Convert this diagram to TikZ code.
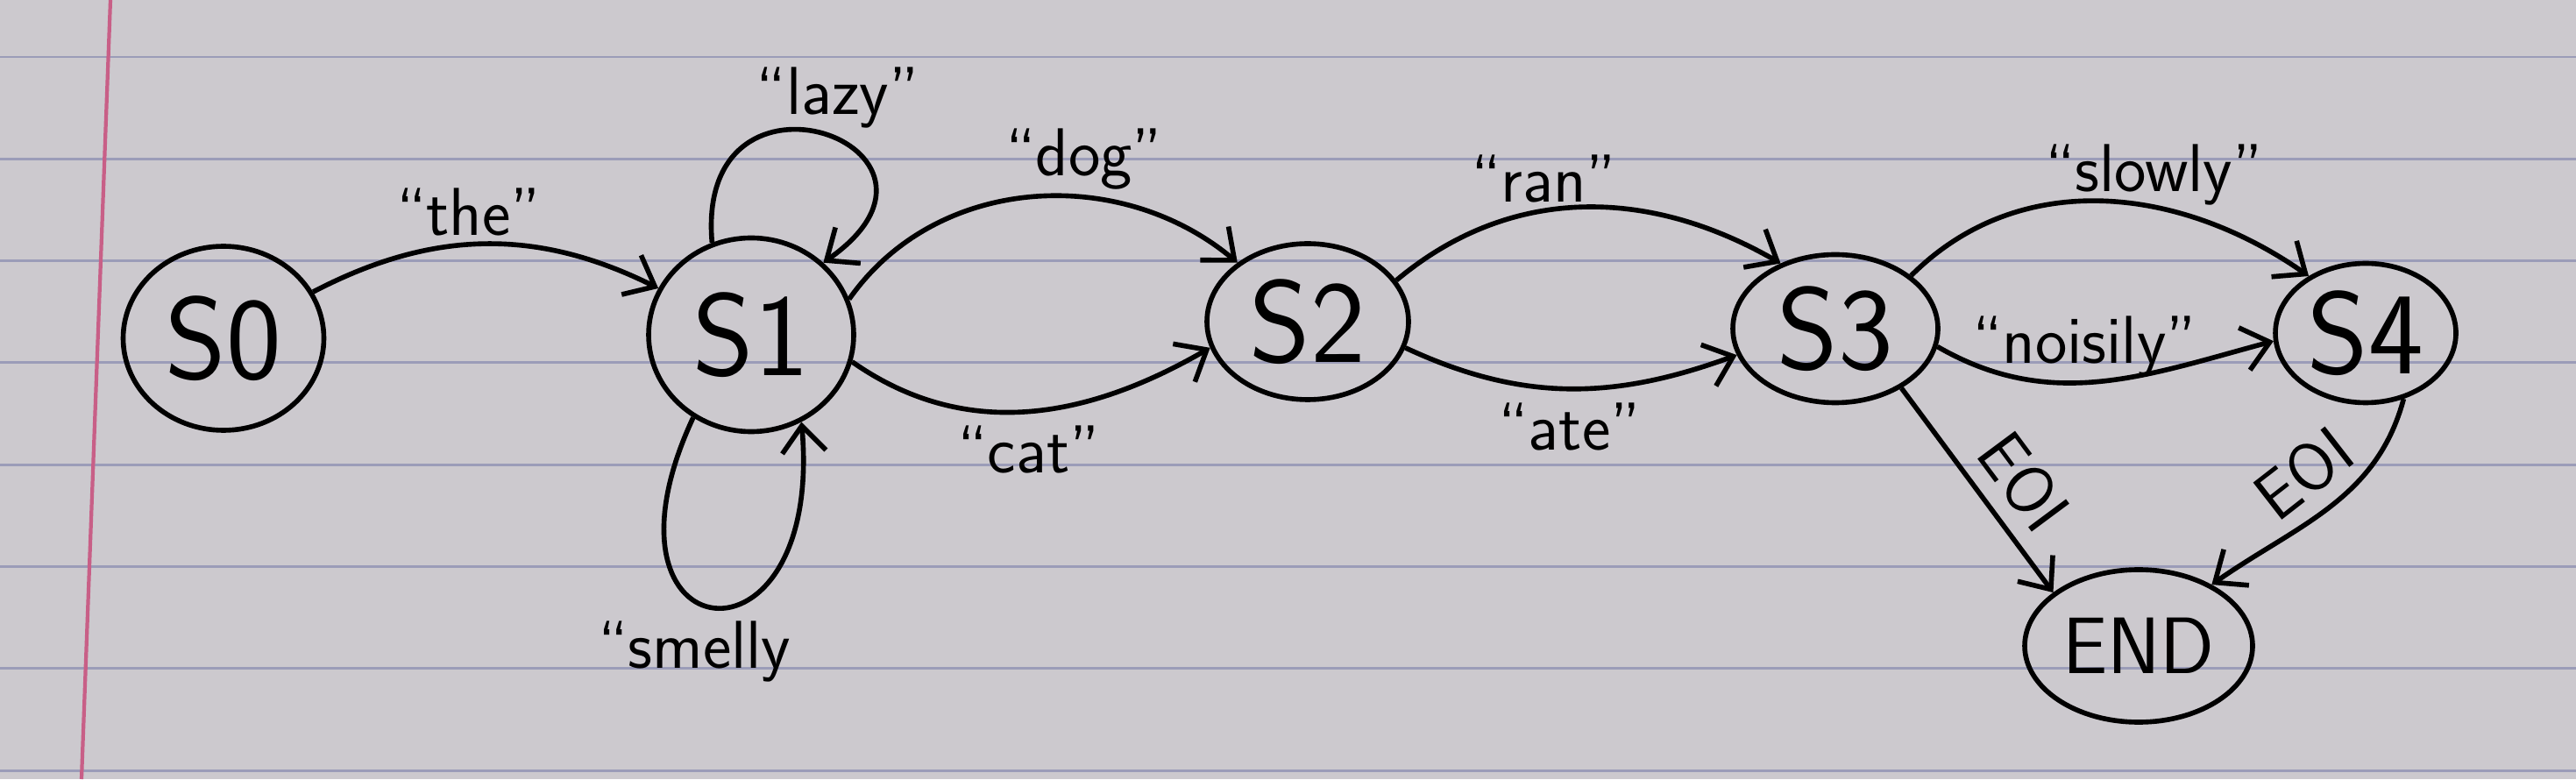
\documentclass[tikz,border=0pt]{standalone}
\usepackage{tikz}
\usetikzlibrary{arrows}
\usetikzlibrary{arrows.meta}
\usetikzlibrary{shapes.geometric}
\definecolor{paper}{RGB}{204,201,206}
\definecolor{rule}{RGB}{155,156,184}
\definecolor{margin}{RGB}{200,95,135}

\begin{document}
\begin{tikzpicture}[state/.style={draw,ellipse,line width=1.6pt,inner sep=0pt,font=\sffamily\fontsize{38}{38}\selectfont},
  word/.style={inner sep=2pt,font=\sffamily\fontsize{22}{22}\selectfont},
  tr/.style={line width=1.6pt,-{Straight Barb[length=3mm,width=5mm,line width=1.6pt]}}]
\useasboundingbox[fill=paper] (0,0) rectangle (29.39,8.89);
\foreach \i in {0,...,7}
  \draw[rule,line width=0.8pt] (0,8.24-1.163*\i) -- (29.39,8.24-1.163*\i);
\draw[margin,line width=1.2pt] (1.26,8.89) -- (0.93,0);

  \node[state,minimum width=2.29cm,minimum height=2.1cm] (s0) at (2.55,5.03) {S0};
  \node[state,minimum width=2.34cm,minimum height=2.21cm] (s1) at (8.57,5.07) {S1};
  \node[state,minimum width=2.3cm,minimum height=1.78cm] (s2) at (14.92,5.22) {S2};
  \node[state,minimum width=2.34cm,minimum height=1.69cm] (s3) at (20.94,5.14) {S3};
  \node[state,minimum width=2.06cm,minimum height=1.59cm] (s4) at (26.99,5.09) {S4};
  \node[state,minimum width=2.6cm,minimum height=1.74cm,font=\sffamily\fontsize{26}{26}\selectfont] (fin) at (24.40,1.52) {END};

\draw[tr](s0) to[bend left=27] node[word,above,pos=0.45]{``the''} (s1);
\draw[tr](s1.113) to[out=95,in=35,distance=2.3cm] node[word,pos=0.55,above=1pt]{``lazy''} (s1.45);
\draw[tr](s1.235) to[out=245,in=275,distance=3cm] node[word,below=4pt,pos=0.42]{``smelly} (s1.300);
\draw[tr](s1.20) to[out=55,in=140] node[word,above,pos=0.62]{``dog''} (s2.140);
\draw[tr](s1.-15) to[out=-35,in=210] node[word,below=2pt]{``cat''} (s2.195);
\draw[tr](s2.25) to[out=40,in=150] node[word,above,pos=0.4]{``ran''} (s3.130);
\draw[tr](s2.-15) to[out=-25,in=200] node[word,below=2pt]{``ate''} (s3.195);
\draw[tr](s3.35) to[out=45,in=145] node[word,above=-2pt,pos=0.62]{``slowly''} (s4.135);
\draw[tr](s3.-10) to[out=-30,in=195] node[word,above=-1pt,pos=0.45]{``noisily''} (s4.185);
\draw[tr](s3.-42) -- node[word,sloped,above=3pt,pos=0.58]{EOI} (fin.148);
\draw[tr](s4.-60) to[out=-105,in=35] node[word,sloped,above=3pt]{EOI} (fin.40);
  \end{tikzpicture}
\end{document}
